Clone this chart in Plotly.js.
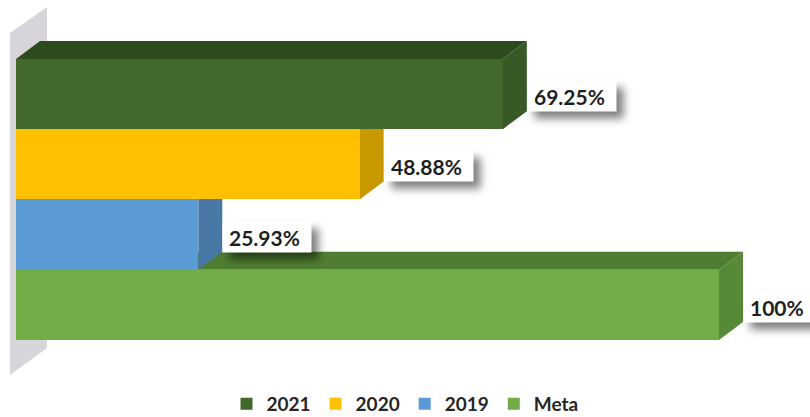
<!DOCTYPE html>
<html>
<head>
<meta charset="utf-8">
<script src="https://cdn.plot.ly/plotly-3.0.1.min.js"></script>
<style>
  html, body { margin: 0; padding: 0; background: #fff; }
  #chart { width: 810px; height: 417px; }
</style>
</head>
<body>
<div id="chart"></div>
<script>
// data
const categories = ['2021', '2020', '2019', 'Meta']
const values = [69.25, 48.88, 25.93, 100]
const labels = ['69.25%', '48.88%', '25.93%', '100%']

// colours: front, top, side of each 3d bar
const front_colors = ['#43682B', '#FFC000', '#5B9BD5', '#70AD47']
const top_colors = ['#2E4A1F', '#D9A300', '#4A80B2', '#4F7D31']
const side_colors = ['#385826', '#C79800', '#4778A6', '#578A38']

// scale: 100% spans 703px starting at 16px, one category is ~70px tall
const px_per_pct = 7.03
const px_per_cat = 70.25
const depth_x = 24 / px_per_pct
const depth_y = 18 / px_per_cat

const traces = categories.map((name, i) => ({
    type: 'bar',
    orientation: 'h',
    name: name,
    x: [values[i]],
    y: [i],
    marker: { color: front_colors[i], line: { width: 0 } },
    hoverinfo: 'skip'
}))

// side wall, drawn in pixel terms of the 810x417 page
const px = (x, y) => `${x / 810},${1 - y / 417}`
const shapes = [{
    type: 'path', xref: 'paper', yref: 'paper', layer: 'below',
    path: `M${px(10, 33)} L${px(47, 7)} L${px(47, 348)} L${px(10, 375)} Z`,
    fillcolor: '#D7D5D9', line: { width: 0 }
}]

// top and side faces, back-most (bottom) bar first
for (let i = categories.length - 1; i >= 0; i--) {
    const v = values[i]
    const top = i - 0.5
    const bottom = i + 0.5
    shapes.push({
        type: 'path', xref: 'x', yref: 'y', layer: 'below',
        path: `M0,${top} L${v},${top} L${v + depth_x},${top - depth_y} L${depth_x},${top - depth_y} Z`,
        fillcolor: top_colors[i], line: { width: 0 }
    })
    shapes.push({
        type: 'path', xref: 'x', yref: 'y', layer: 'below',
        path: `M${v},${top} L${v + depth_x},${top - depth_y} L${v + depth_x},${bottom - depth_y} L${v},${bottom} Z`,
        fillcolor: side_colors[i], line: { width: 0 }
    })
}

const annotations = categories.map((name, i) => ({
    xref: 'x', yref: 'y',
    x: values[i] + depth_x, y: i + 0.03,
    xanchor: 'left', yanchor: 'middle',
    showarrow: false,
    text: labels[i],
    bgcolor: '#FFFFFF',
    borderpad: 6,
    width: 76, height: 18,
    align: 'left',
    font: { family: 'Lato, sans-serif', size: 21, weight: 'bold', color: '#1F1F1F' }
}))

const layout = {
    width: 810,
    height: 417,
    margin: { l: 0, r: 0, t: 0, b: 0, autoexpand: false },
    paper_bgcolor: '#FFFFFF',
    plot_bgcolor: '#FFFFFF',
    barmode: 'overlay',
    bargap: 0,
    xaxis: { range: [-16 / px_per_pct, (810 - 16) / px_per_pct], visible: false, fixedrange: true },
    yaxis: { range: [(417 - 94.1) / px_per_cat, -94.1 / px_per_cat], visible: false, fixedrange: true },
    shapes: shapes,
    annotations: annotations,
    showlegend: true,
    legend: {
        orientation: 'h',
        x: 0.5, xanchor: 'center',
        y: 1 - 404 / 417, yanchor: 'middle',
        bgcolor: 'rgba(0,0,0,0)',
        font: { family: 'Lato, sans-serif', size: 19, weight: 'bold', color: '#262626' }
    }
}

Plotly.newPlot('chart', traces, layout, { displayModeBar: false, staticPlot: true }).then(gd => {
    // soft shadow behind the value labels
    gd.querySelectorAll('.annotation rect.bg').forEach(r => {
        r.style.filter = 'drop-shadow(7px 7px 4px rgba(0,0,0,0.5))'
    })
})
</script>
</body>
</html>
